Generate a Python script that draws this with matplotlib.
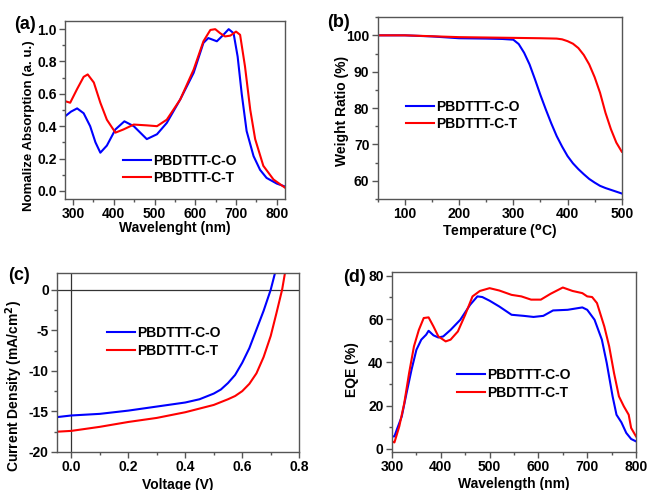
import matplotlib
matplotlib.use("Agg")
import matplotlib.pyplot as plt
from matplotlib.ticker import MultipleLocator, FormatStrFormatter

plt.rcParams['font.family'] = ['Liberation Sans', 'DejaVu Sans']
plt.rcParams['font.weight'] = 'bold'
plt.rcParams['font.size'] = 10
plt.rcParams['mathtext.default'] = 'bf'
plt.rcParams['axes.unicode_minus'] = False

labels = ["PBDTTT-C-O", "PBDTTT-C-T"]

# (a) absorption
abs_o_x = [280, 295, 310, 326, 342, 355, 367, 383, 404, 426, 449, 481, 506, 530,
           563, 596, 620, 632, 653, 669, 682, 694, 704, 714, 726, 743, 759, 775,
           800, 820]
abs_o_y = [0.46, 0.49, 0.51, 0.48, 0.40, 0.30, 0.236, 0.28, 0.38, 0.43, 0.40, 0.32, 0.35, 0.42,
           0.565, 0.73, 0.915, 0.945, 0.925, 0.965, 1.0, 0.975, 0.83, 0.60, 0.37, 0.215, 0.13, 0.08,
           0.045, 0.027]
abs_t_x = [280, 293, 310, 326, 336, 351, 367, 383, 404, 424, 449, 481, 506, 530,
           563, 596, 620, 637, 649, 661, 673, 686, 700, 710, 722, 735, 747, 767,
           792, 820]
abs_t_y = [0.555, 0.545, 0.63, 0.705, 0.72, 0.67, 0.545, 0.44, 0.36, 0.38, 0.41, 0.405, 0.40, 0.44,
           0.565, 0.75, 0.925, 0.995, 1.0, 0.975, 0.955, 0.96, 0.985, 0.965, 0.77, 0.50, 0.32, 0.155,
           0.07, 0.02]

# (b) TGA
tga_o_x = [50, 100, 150, 200, 250, 280, 300, 310, 320, 330, 340, 350, 360, 370, 380,
           390, 400, 410, 420, 430, 440, 450, 460, 470, 480, 490, 500]
tga_o_y = [100, 100, 99.7, 99.2, 99.1, 99.0, 98.8, 97.6, 95.2, 92.0, 87.9, 83.6, 79.6, 75.8, 72.3,
           69.4, 66.8, 64.8, 63.2, 61.8, 60.5, 59.5, 58.6, 58.0, 57.5, 57.0, 56.5]
tga_t_x = [50, 100, 200, 300, 350, 380, 390, 400, 410, 420, 430, 440, 450, 460, 470, 480,
           490, 500]
tga_t_y = [100, 100, 99.5, 99.3, 99.2, 99.1, 98.9, 98.4, 97.7, 96.5, 94.6, 92.0, 88.5, 84.2,
           78.7, 74.2, 70.5, 68.0]

# (c) J-V
jv_o_v = [-0.05, 0.0, 0.1, 0.2, 0.3, 0.4, 0.45, 0.5, 0.525, 0.55, 0.575, 0.6, 0.625, 0.65,
          0.675, 0.7, 0.715]
jv_o_j = [-15.7, -15.5, -15.3, -14.9, -14.4, -13.9, -13.5, -12.8, -12.3, -11.5, -10.5, -9.0,
          -7.2, -4.9, -2.6, 0.0, 2.05]
jv_t_v = [-0.05, 0.0, 0.1, 0.2, 0.3, 0.4, 0.5, 0.55, 0.575, 0.6, 0.625, 0.65, 0.675, 0.7,
          0.72, 0.74, 0.75]
jv_t_j = [-17.5, -17.4, -16.9, -16.3, -15.8, -15.1, -14.2, -13.5, -13.1, -12.5, -11.6, -10.3,
          -8.3, -5.7, -2.9, 0.0, 2.05]

# (d) EQE
eqe_o_x = [300, 305, 310, 320, 330, 340, 350, 360, 370, 375, 385, 395, 405, 420, 440, 460,
           475, 485, 500, 520, 545, 570, 590, 610, 630, 660, 690, 700, 715, 730, 740,
           752, 760, 770, 780, 790, 800]
eqe_o_y = [5.8, 5.8, 9, 15, 26, 36.6, 45.8, 50.5, 52.8, 54.6, 52.5, 51.5, 52, 55, 59.7, 66.6,
           70.5, 70.2, 68.5, 65.8, 62, 61.5, 61, 61.5, 64, 64.3, 65.4, 64.3, 59.7, 50.5, 39.7,
           24.3, 15.8, 12.3, 7.4, 4.6, 3.5]
eqe_t_x = [300, 305, 315, 325, 335, 345, 355, 365, 375, 385, 395, 410, 420, 435, 450, 465,
           480, 500, 520, 545, 565, 585, 605, 625, 650, 670, 690, 700, 710, 720, 735,
           745, 755, 765, 775, 785, 790, 800]
eqe_t_y = [3.5, 3.0, 10.5, 21, 35, 47.4, 55, 60.5, 60.8, 56.6, 52, 49.7, 50.5, 54.3, 62, 70.5,
           73, 74.3, 73.2, 71.2, 70.5, 69, 69, 71.7, 74.6, 73, 72, 70.5, 70.2, 67.4, 56.6,
           47.4, 35, 24.3, 19.7, 15.8, 9.7, 5.8]

BLUE = '#0000ff'
RED = '#ff0000'
SPINE = '#555555'


def style_axes(ax):
    for s in ax.spines.values():
        s.set_color(SPINE)
        s.set_linewidth(1.0)
    ax.tick_params(which='both', direction='out', top=False, right=False, color=SPINE)
    ax.tick_params(which='major', length=4, width=1, labelsize=10, pad=2)
    ax.tick_params(which='minor', length=2, width=1)
    for t in ax.get_xticklabels() + ax.get_yticklabels():
        t.set_fontweight('bold')


def add_legend(ax, x, y):
    ax.legend(loc='center left', bbox_to_anchor=(x, y), frameon=False, fontsize=10,
              handlelength=2.0, handletextpad=0.15, labelspacing=0.25,
              borderpad=0, borderaxespad=0)


fig = plt.figure(figsize=(6.49, 4.90), dpi=100)

# (a)
ax = fig.add_axes([0.100, 0.594, 0.339, 0.363])
ax.plot(abs_o_x, abs_o_y, color=BLUE, lw=1.5, label=labels[0])
ax.plot(abs_t_x, abs_t_y, color=RED, lw=1.5, label=labels[1])
ax.set_xlim(280, 820)
ax.set_ylim(-0.05, 1.05)
ax.xaxis.set_major_locator(MultipleLocator(100))
ax.xaxis.set_minor_locator(MultipleLocator(50))
ax.yaxis.set_major_locator(MultipleLocator(0.2))
ax.yaxis.set_minor_locator(MultipleLocator(0.1))
ax.yaxis.set_major_formatter(FormatStrFormatter('%.1f'))
ax.set_xlabel('Wavelenght (nm)', fontweight='bold', labelpad=0)
ax.set_ylabel('Nomalize Absorption (a. u.)', fontweight='bold', fontsize=9.5)
ax.yaxis.set_label_coords(-0.136, 0.41)
style_axes(ax)
add_legend(ax, 0.264, 0.166)
fig.text(0.022, 0.951, '(a)', fontsize=13, fontweight='bold', va='center')

# (b)
ax = fig.add_axes([0.582, 0.594, 0.376, 0.371])
ax.plot(tga_o_x, tga_o_y, color=BLUE, lw=1.5, label=labels[0])
ax.plot(tga_t_x, tga_t_y, color=RED, lw=1.5, label=labels[1])
ax.set_xlim(50, 500)
ax.set_ylim(55, 105)
ax.xaxis.set_major_locator(MultipleLocator(100))
ax.xaxis.set_minor_locator(MultipleLocator(50))
ax.yaxis.set_major_locator(MultipleLocator(10))
ax.yaxis.set_minor_locator(MultipleLocator(5))
ax.set_xlabel(r'Temperature ($^{\mathbf{o}}$C)', fontweight='bold', labelpad=1)
ax.set_ylabel('Weight Ratio (%)', fontweight='bold')
ax.yaxis.set_label_coords(-0.119, 0.484)
style_axes(ax)
add_legend(ax, 0.115, 0.459)
fig.text(0.504, 0.955, '(b)', fontsize=13, fontweight='bold', va='center')

# (c)
ax = fig.add_axes([0.088, 0.0776, 0.373, 0.365])
ax.axhline(0, color='#333333', lw=0.9)
ax.axvline(0, color='#333333', lw=0.9)
ax.plot(jv_o_v, jv_o_j, color=BLUE, lw=1.5, label=labels[0])
ax.plot(jv_t_v, jv_t_j, color=RED, lw=1.5, label=labels[1])
ax.set_xlim(-0.05, 0.8)
ax.set_ylim(-20, 2.05)
ax.xaxis.set_major_locator(MultipleLocator(0.2))
ax.xaxis.set_minor_locator(MultipleLocator(0.1))
ax.xaxis.set_major_formatter(FormatStrFormatter('%.1f'))
ax.yaxis.set_major_locator(MultipleLocator(5))
ax.yaxis.set_minor_locator(MultipleLocator(2.5))
ax.set_xlabel('Voltage (V)', fontweight='bold', labelpad=3)
ax.set_ylabel(r'Current Density (mA/cm$^{\mathbf{2}}$)', fontweight='bold')
ax.yaxis.set_label_coords(-0.132, 0.371)
style_axes(ax)
add_legend(ax, 0.207, 0.615)
fig.text(0.013, 0.437, '(c)', fontsize=13, fontweight='bold', va='center')

# (d)
ax = fig.add_axes([0.604, 0.0776, 0.376, 0.367])
ax.plot(eqe_o_x, eqe_o_y, color=BLUE, lw=1.5, label=labels[0])
ax.plot(eqe_t_x, eqe_t_y, color=RED, lw=1.5, label=labels[1])
ax.set_xlim(300, 800)
ax.set_ylim(-1.4, 81.7)
ax.xaxis.set_major_locator(MultipleLocator(100))
ax.xaxis.set_minor_locator(MultipleLocator(50))
ax.yaxis.set_major_locator(MultipleLocator(20))
ax.yaxis.set_minor_locator(MultipleLocator(10))
ax.set_xlabel('Wavelength (nm)', fontweight='bold', labelpad=2)
ax.set_ylabel('EQE (%)', fontweight='bold')
ax.yaxis.set_label_coords(-0.135, 0.456)
style_axes(ax)
add_legend(ax, 0.266, 0.378)
fig.text(0.528, 0.433, '(d)', fontsize=13, fontweight='bold', va='center')

fig.savefig('out.png', dpi=100)
